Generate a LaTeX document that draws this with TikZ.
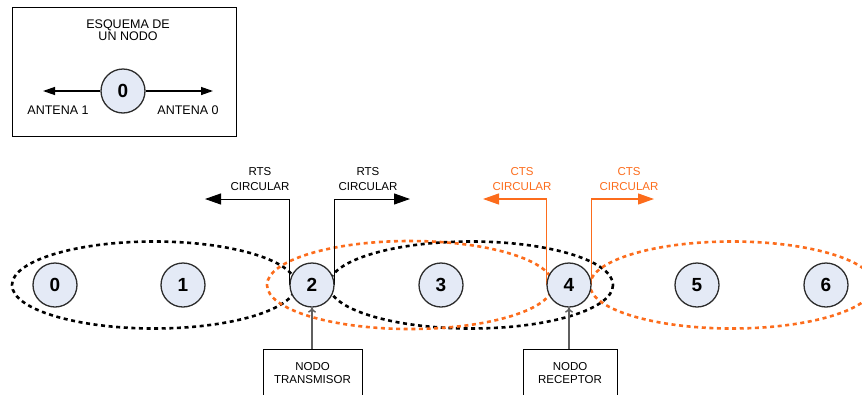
\documentclass[tikz,border=0pt]{standalone}
\usepackage{fontspec}
\setmainfont{Liberation Sans}
\usetikzlibrary{arrows.meta}
\definecolor{ctsorange}{RGB}{252,108,28}
\definecolor{nodefill}{RGB}{228,234,246}
\definecolor{nodeline}{RGB}{45,45,45}
\definecolor{pointer}{RGB}{95,95,95}
\pgfdeclarelayer{bg}
\pgfsetlayers{bg,main}
\tikzset{
  station/.style={circle, draw=nodeline, line width=1.3pt, fill=nodefill,
    minimum size=44pt, inner sep=0pt, font=\fontsize{19}{19}\selectfont\bfseries},
  sigtext/.style={align=center, inner sep=0pt, font=\fontsize{11.5}{15}\selectfont},
  legendtext/.style={align=center, inner sep=0pt, font=\fontsize{12.5}{12}\selectfont},
  infobox/.style={draw, line width=0.9pt, minimum width=99pt, minimum height=47pt,
    align=center, inner sep=0pt, font=\fontsize{11.5}{13}\selectfont},
  rangeline/.style={line width=2.6pt, dash pattern=on 4pt off 3.6pt},
  signal/.style={line width=1pt, -{Triangle[length=16pt,width=11pt]}},
  antenna/.style={line width=1.3pt, -{Triangle[length=12pt,width=8pt]}},
  pointto/.style={line width=1.5pt, pointer, -{To[length=5pt,width=8pt]}}
}
\begin{document}
\begin{tikzpicture}[x=1pt,y=-1pt]
\useasboundingbox (0,0) rectangle (862,394);
\clip (0,0) rectangle (862,394);

% legend: one node and its two antennas
\node[draw, line width=1pt, minimum width=224pt, minimum height=129pt, inner sep=0pt]
  (legend) at (124,71.5) {};
\node[legendtext] (legtitle) at (128,30) {ESQUEMA DE\\UN NODO};
\node[station] (l0) at (123,91) {0};
\coordinate (ant1) at (43,91);
\coordinate (ant0) at (213,91);
\draw[antenna] (l0.west) -- (ant1);
\draw[antenna] (l0.east) -- (ant0);
\node[legendtext] (ant1txt) at (58,110) {ANTENA 1};
\node[legendtext] (ant0txt) at (188,110) {ANTENA 0};

% the chain of nodes
\node[station] (n0) at (55,285) {0};
\node[station] (n1) at (183,285) {1};
\node[station] (n2) at (312,285) {2};
\node[station] (n3) at (441,285) {3};
\node[station] (n4) at (569,285) {4};
\node[station] (n5) at (697,285) {5};
\node[station] (n6) at (826,285) {6};

\begin{pgfonlayer}{bg}
  % transmission ranges
  \draw[rangeline] (154,285) ellipse [x radius=142, y radius=43.5];
  \draw[rangeline] (471,285) ellipse [x radius=142, y radius=43.5];
  \draw[rangeline, ctsorange] (410,285) ellipse [x radius=143, y radius=44];
  \draw[rangeline, ctsorange] (732,285) ellipse [x radius=142, y radius=43.5];
  % circular RTS from the transmitter
  \coordinate (rtsL) at (205,199);
  \coordinate (rtsR) at (410,199);
  \draw[signal] (n2.west) |- (rtsL);
  \draw[signal] (n2.east) |- (rtsR);
  % circular CTS from the receiver
  \coordinate (ctsL) at (483,199);
  \coordinate (ctsR) at (654,199);
  \draw[signal, ctsorange, line width=1.2pt] (n4.west) |- (ctsL);
  \draw[signal, ctsorange, line width=1.2pt] (n4.east) |- (ctsR);
\end{pgfonlayer}

\node[sigtext] (rtsLtxt) at (260,179.5) {RTS\\CIRCULAR};
\node[sigtext] (rtsRtxt) at (368,179.5) {RTS\\CIRCULAR};
\node[sigtext, text=ctsorange] (ctsLtxt) at (522,179.5) {CTS\\CIRCULAR};
\node[sigtext, text=ctsorange] (ctsRtxt) at (629,179.5) {CTS\\CIRCULAR};

% role boxes
\node[infobox, anchor=north] (tx) at (312.5,349) {NODO\\TRANSMISOR};
\node[infobox, minimum width=94pt, anchor=north] (rx) at (570,349) {NODO\\RECEPTOR};
\draw[pointto] (tx.north -| n2) -- (n2.south);
\draw[pointto] (rx.north -| n4) -- (n4.south);
\end{tikzpicture}
\end{document}
